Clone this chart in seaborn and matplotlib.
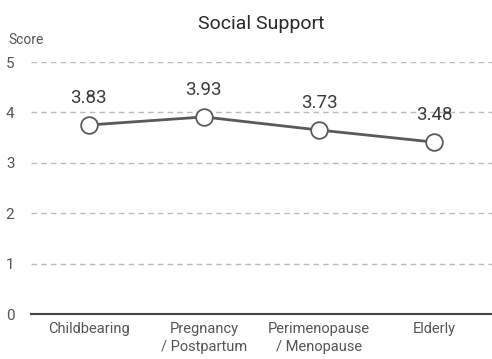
import matplotlib
matplotlib.use('Agg')
import matplotlib.pyplot as plt
import seaborn as sns
import numpy as np

# data
categories = ['Childbearing', 'Pregnancy\n/ Postpartum', 'Perimenopause\n/ Menopause', 'Elderly']
values = [3.75, 3.91, 3.65, 3.41]          # plotted positions
value_labels = ['3.83', '3.93', '3.73', '3.48']  # printed labels
yticks = [0, 1, 2, 3, 4, 5]

sns.set_style('white')
plt.rcParams['font.family'] = ['Roboto', 'DejaVu Sans']

fig = plt.figure(figsize=(4.92, 3.59), dpi=100)
ax = fig.add_axes([31 / 492, 1 - 314 / 359, 1 - 31 / 492, (314 - 62) / 359])

sns.lineplot(x=categories, y=values, ax=ax, color='#5a5a5a', lw=2,
             marker='o', markersize=12, markerfacecolor='white',
             markeredgecolor='#5a5a5a', markeredgewidth=1.3, sort=False)

for i, (v, lab) in enumerate(zip(values, value_labels)):
    ax.annotate(lab, (i, v), xytext=(0, 13), textcoords='offset points',
                ha='center', va='bottom', fontsize=13.5, color='#3a3a3a')

ax.set_xlim(-0.5, 3.5)
ax.set_ylim(0, 5)
ax.set_yticks(yticks)
for y in yticks[1:]:
    ax.axhline(y, color='#bbbbbb', lw=1, ls=(0, (4, 3)), zorder=0)

ax.set_xticks(np.arange(-0.5, 4, 1), minor=True)
ax.tick_params(axis='x', which='minor', length=5, width=1.2, color='#444444')
ax.tick_params(axis='x', which='major', length=0, pad=6, labelsize=10.5, labelcolor='#555555')
ax.tick_params(axis='y', length=0, pad=12, labelsize=11, labelcolor='#555555')
for t in ax.get_xticklabels():
    t.set_linespacing(1.35)

for s in ['top', 'right', 'left']:
    ax.spines[s].set_visible(False)
ax.spines['bottom'].set_color('#444444')
ax.spines['bottom'].set_linewidth(1.5)

ax.set_xlabel('')
ax.set_ylabel('')
ax.set_title('Social Support', fontsize=14, color='#2a2a2a', pad=24)
fig.text(8 / 492, 1 - 40 / 359, 'Score', fontsize=10, color='#555555',
         va='center', ha='left')

fig.savefig('out.png', dpi=100)
